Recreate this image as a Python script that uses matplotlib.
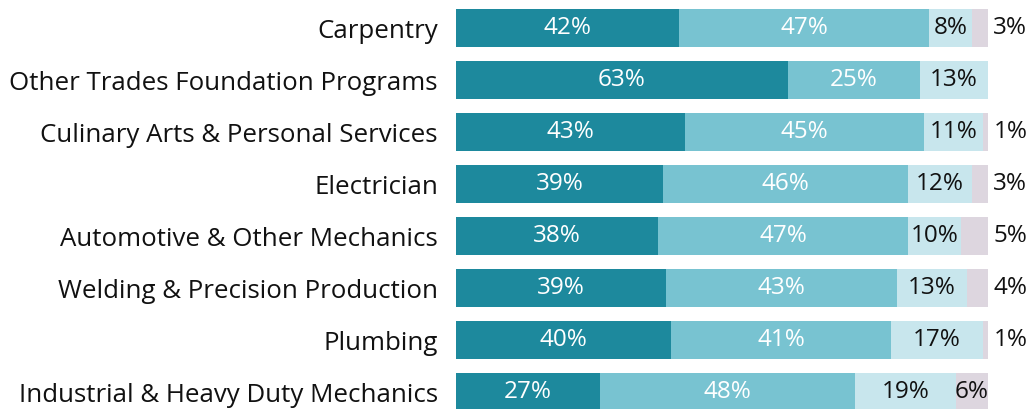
import matplotlib
matplotlib.use("Agg")
import matplotlib.pyplot as plt
import numpy as np

categories = [
    "Carpentry",
    "Other Trades Foundation Programs",
    "Culinary Arts & Personal Services",
    "Electrician",
    "Automotive & Other Mechanics",
    "Welding & Precision Production",
    "Plumbing",
    "Industrial & Heavy Duty Mechanics",
]
seg1 = [42, 63, 43, 39, 38, 39, 40, 27]
seg2 = [47, 25, 45, 46, 47, 43, 41, 48]
seg3 = [8, 13, 11, 12, 10, 13, 17, 19]
seg4 = [3, 0, 1, 3, 5, 4, 1, 6]

colors = ["#1d899d", "#78c3d1", "#c8e6ed", "#ddd6df"]
text_colors = ["white", "white", "#111111", "#111111"]

plt.rcParams['font.family'] = ['Open Sans', 'DejaVu Sans']

fig = plt.figure(figsize=(10.36, 4.09), dpi=100)
ax = fig.add_axes([456 / 1036, 0, 532 / 1036, 1])

data = np.array([seg1, seg2, seg3, seg4], dtype=float)
totals = data.sum(axis=0)
shares = data / totals * 100
y = np.arange(len(categories))
left = np.zeros(len(categories))
vfs = 17.5
for k in range(4):
    ax.barh(y, shares[k], left=left, height=0.73, color=colors[k], linewidth=0)
    for i in range(len(categories)):
        v = data[k, i]
        if v <= 0:
            left[i] += shares[k, i]
            continue
        if k == 3 and v < 6:
            ax.text(101, y[i], f"{int(v)}%", ha="left", va="center",
                    fontsize=vfs, color=text_colors[k], clip_on=False)
        else:
            ax.text(left[i] + shares[k, i] / 2, y[i], f"{int(v)}%",
                    ha="center", va="center", fontsize=vfs, color=text_colors[k])
        left[i] += shares[k, i]

ax.set_xlim(0, 100)
ax.set_ylim(7 + 17 / 52, -28 / 52)
ax.set_yticks(y)
ax.set_yticklabels(categories, fontsize=18.6, color="#111111")
ax.tick_params(axis="y", length=0, pad=13)
ax.set_xticks([])
for s in ax.spines.values():
    s.set_visible(False)

fig.savefig("out.png", dpi=100)
